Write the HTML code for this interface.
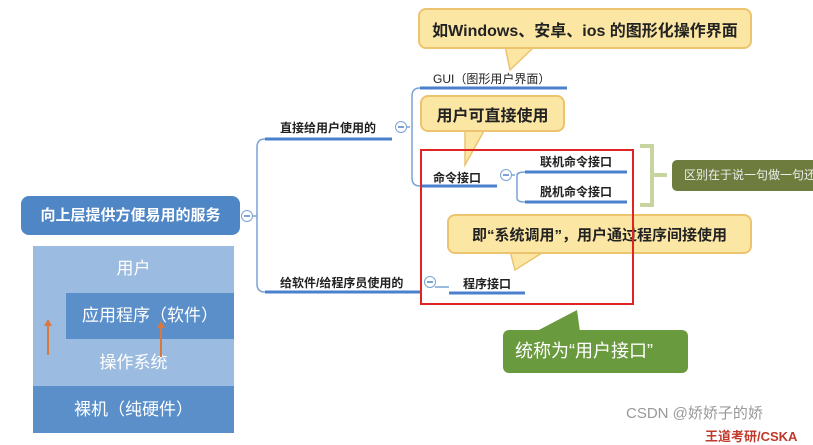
<!DOCTYPE html>
<html><head><meta charset="utf-8"><style>
body{margin:0;width:813px;height:433px;overflow:hidden;background:#fff;position:relative;font-family:"Liberation Sans","Noto Sans CJK SC",sans-serif;}
.a{position:absolute;white-space:nowrap;}
.t{font-size:12px;color:#222;font-weight:bold;}
.y{position:absolute;background:#fbe6a3;border:2px solid #ecc470;border-radius:8px;box-sizing:border-box;font-size:16px;font-weight:bold;color:#222;display:flex;align-items:center;justify-content:center;}
.c{position:absolute;width:10px;height:10px;border:1.5px solid #7aa2d6;border-radius:50%;background:#fff;}
.c:after{content:"";position:absolute;left:2px;top:4px;width:6px;height:1.5px;background:#7aa2d6;}
</style></head><body>
<svg class="a" style="left:0;top:0" width="813" height="433">
<g fill="none" stroke="#7aa2d6" stroke-width="1.5">
<path d="M252 216 H257 M265 139 Q257 139 257 147 V284 Q257 292 265 292"/>
<path d="M406 127 H410 M420 88 Q412 88 412 96 V178 Q412 186 420 186"/>
<path d="M511 175 H515 M525 172 Q517 172 517 176 V198 Q517 202 525 202 M517 175 Q517 172 525 172"/>
<path d="M435 287 H449"/>
</g>
<g stroke="#4a80cc" stroke-width="3">
<line x1="265" y1="139" x2="392" y2="139"/><line x1="265" y1="292" x2="420" y2="292"/>
<line x1="420" y1="88" x2="567" y2="88"/><line x1="420" y1="186" x2="497" y2="186"/>
<line x1="525" y1="172" x2="627" y2="172"/><line x1="525" y1="202" x2="627" y2="202"/>
<line x1="449" y1="293" x2="525" y2="293"/>
</g>
<polygon points="505,46 535,46 510,70" fill="#fbe6a3" stroke="#ecc470" stroke-width="1.5"/>
<polygon points="465,129 485,129 465,165" fill="#fbe6a3" stroke="#ecc470" stroke-width="1.5"/>
<polygon points="510,251 545,251 515,270" fill="#fbe6a3" stroke="#ecc470" stroke-width="1.5"/>
<polygon points="535,332 580,332 577,310" fill="#6a9a3e"/>
<path d="M640 146 H652 V205 H640 M652 175 H667" fill="none" stroke="#c8d4a0" stroke-width="4"/>
</svg>
<div class="a" style="left:21px;top:196px;width:219px;height:39px;background:#4f86c6;border-radius:8px;color:#fff;font-weight:bold;font-size:15px;line-height:39px;text-align:center">向上层提供方便易用的服务</div>
<div class="c" style="left:241px;top:210px"></div>
<div class="c" style="left:395px;top:121px"></div>
<div class="c" style="left:424px;top:276px"></div>
<div class="c" style="left:500px;top:169px"></div>
<div class="a t" style="left:280px;top:119px">直接给用户使用的</div>
<div class="a t" style="left:280px;top:274px">给软件/给程序员使用的</div>
<div class="a t" style="left:433px;top:70px;font-weight:normal">GUI（图形用户界面）</div>
<div class="a t" style="left:433px;top:169px">命令接口</div>
<div class="a t" style="left:540px;top:153px">联机命令接口</div>
<div class="a t" style="left:540px;top:183px">脱机命令接口</div>
<div class="a t" style="left:463px;top:275px">程序接口</div>
<div class="y" style="left:418px;top:8px;width:334px;height:41px">如Windows、安卓、ios 的图形化操作界面</div>
<div class="y" style="left:420px;top:95px;width:145px;height:37px">用户可直接使用</div>
<div class="y" style="left:447px;top:214px;width:305px;height:40px;font-size:15px">即“系统调用”，用户通过程序间接使用</div>
<div class="a" style="left:420px;top:149px;width:214px;height:156px;border:2px solid #e02424;box-sizing:border-box"></div>
<div class="a" style="left:672px;top:160px;width:150px;height:31px;background:#6e7d3e;border-radius:5px;color:#eee;font-size:12px;line-height:31px;padding-left:12px;box-sizing:border-box">区别在于说一句做一句还</div>
<div class="a" style="left:503px;top:330px;width:185px;height:43px;background:#6a9a3e;border-radius:6px;color:#fff;font-size:18px;line-height:43px;padding-left:12px;box-sizing:border-box">统称为“用户接口”</div>
<div class="a" style="left:33px;top:246px;width:201px;height:93px;background:#9bbbe0;color:#fff;font-size:17px;text-align:center;line-height:46px">用户</div>
<div class="a" style="left:66px;top:293px;width:168px;height:46px;background:#5a8fca;color:#fff;font-size:17px;text-align:center;line-height:46px">应用程序（软件）</div>
<div class="a" style="left:33px;top:339px;width:201px;height:47px;background:#9bbbe0;color:#fff;font-size:17px;text-align:center;line-height:47px">操作系统</div>
<div class="a" style="left:33px;top:386px;width:201px;height:47px;background:#5a8fca;color:#fff;font-size:17px;text-align:center;line-height:47px">裸机（纯硬件）</div>
<svg class="a" style="left:0;top:0" width="813" height="433"><line x1="48" y1="355" x2="48" y2="325" stroke="#d9773f" stroke-width="2"/><polygon points="44,326 52,326 48,319" fill="#d9773f"/><line x1="161" y1="357" x2="161" y2="327" stroke="#d9773f" stroke-width="2"/><polygon points="157,328 165,328 161,321" fill="#d9773f"/></svg>
<div class="a" style="left:626px;top:402px;font-size:15px;color:#999">CSDN @娇娇子的娇</div>
<div class="a" style="left:705px;top:426px;font-size:13px;color:#c0392b;font-weight:bold">王道考研/CSKA</div>
</body></html>
